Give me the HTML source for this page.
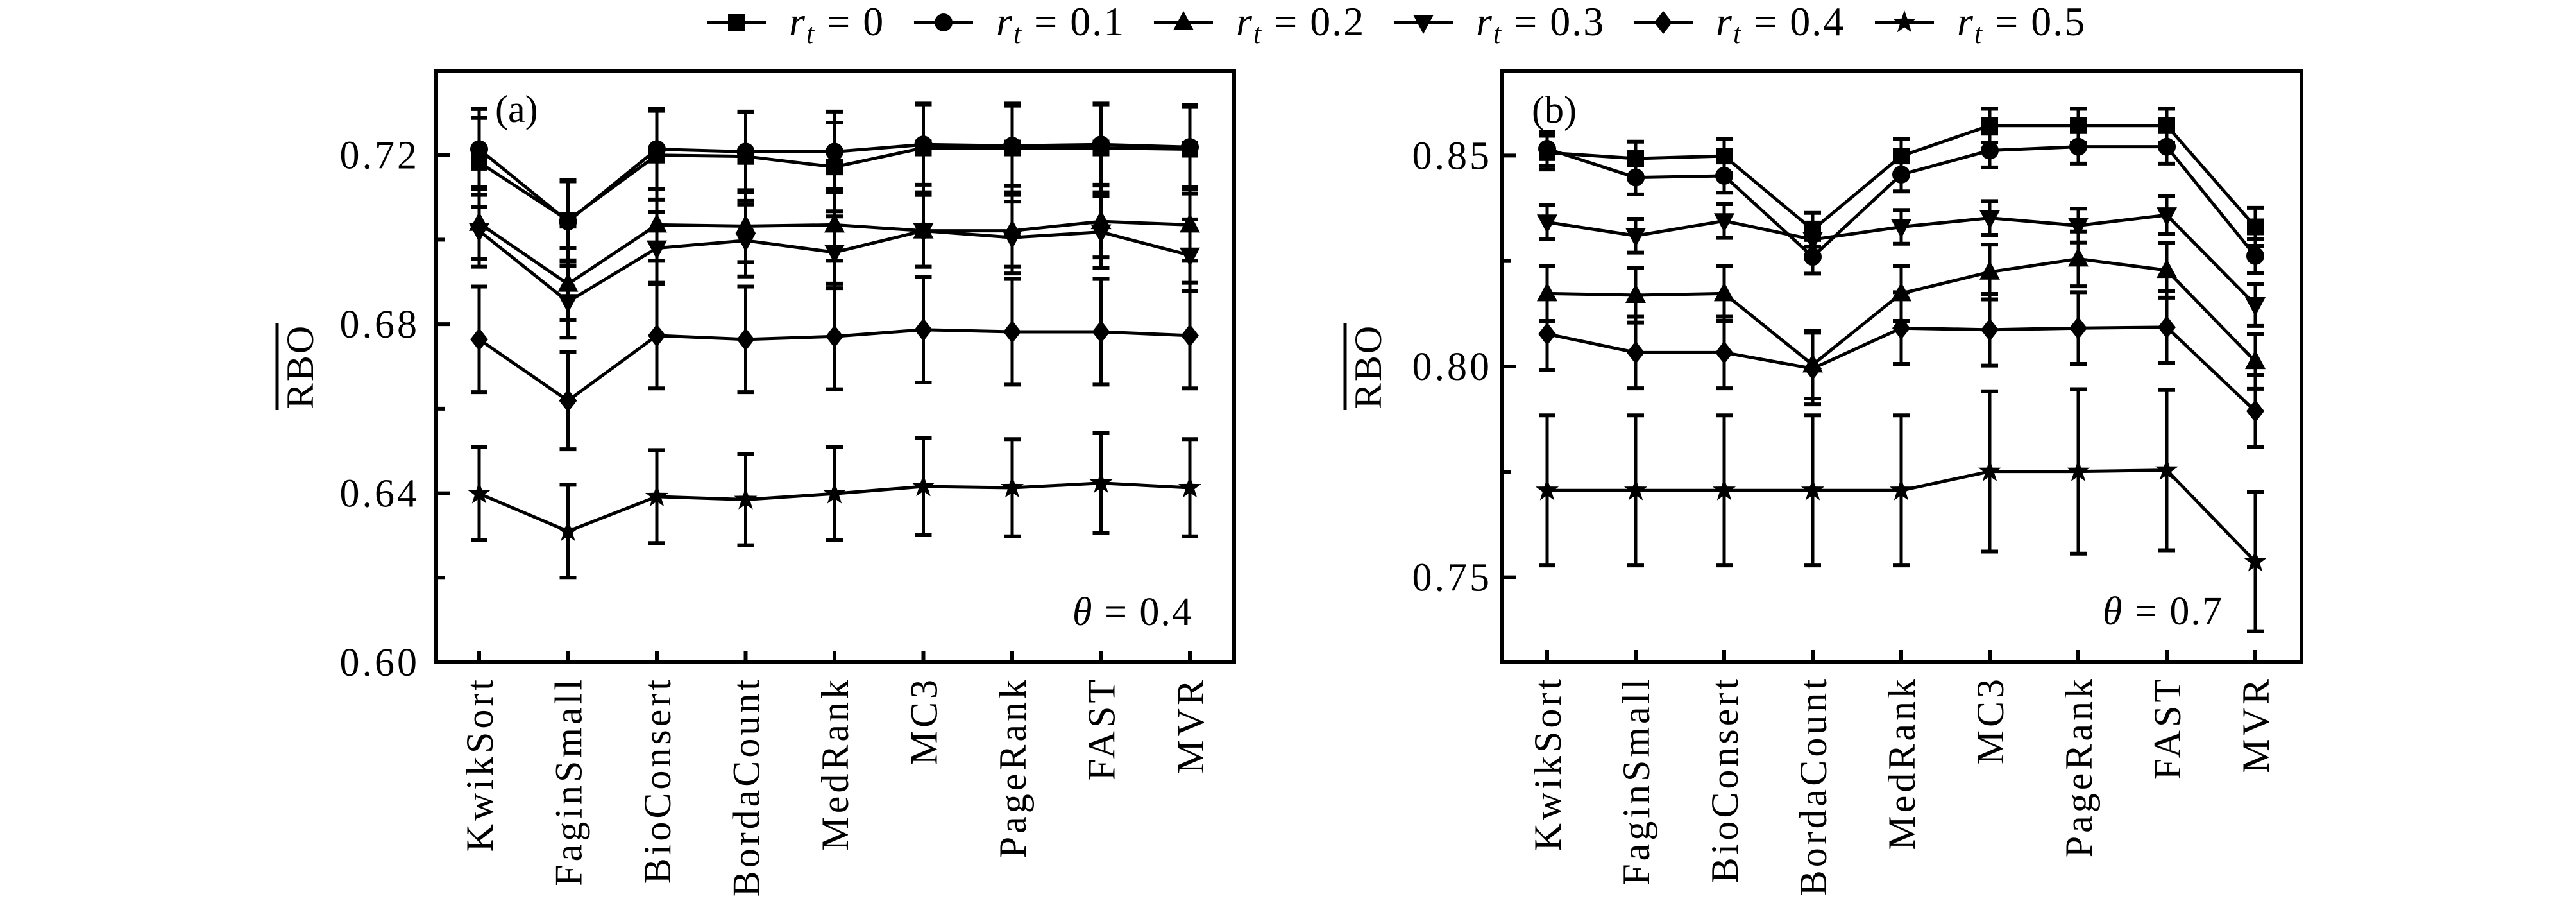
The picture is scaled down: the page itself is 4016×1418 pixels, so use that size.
<!DOCTYPE html>
<html><head><meta charset="utf-8"><style>
html,body{margin:0;padding:0;background:#fff}
svg{display:block}
text{font-family:"Liberation Serif",serif;fill:#000}
</style></head><body>
<svg id="chart" width="4016" height="1418" viewBox="0 0 4016 1418" xmlns="http://www.w3.org/2000/svg">
<g id="legend"></g>
<g id="panelA"></g>
<g id="panelB"></g>
</svg>
<script>
const categories = ["KwikSort","FaginSmall","BioConsert","BordaCount","MedRank","MC3","PageRank","FAST","MVR"];
const seriesLabels = ["0","0.1","0.2","0.3","0.4","0.5"];
const markerTypes = ["square","circle","tri-up","tri-down","diamond","star"];

const a_r0 = [0.7183,0.7046,0.7200,0.7197,0.7172,0.7217,0.7217,0.7217,0.7214];
const a_r1 = [0.7214,0.7043,0.7214,0.7208,0.7208,0.7225,0.7222,0.7225,0.7219];
const a_r2 = [0.7039,0.6895,0.7035,0.7032,0.7035,0.7021,0.7021,0.7043,0.7035];
const a_r3 = [0.7021,0.6853,0.6980,0.6998,0.6970,0.7021,0.7005,0.7018,0.6963];
const a_r4 = [0.6764,0.6619,0.6773,0.6764,0.6771,0.6787,0.6782,0.6782,0.6773];
const a_r5 = [0.6399,0.6310,0.6392,0.6385,0.6399,0.6416,0.6413,0.6424,0.6413];
const a_e0 = [0.0105,0.0095,0.0105,0.0105,0.0105,0.0105,0.0105,0.0105,0.0105];
const a_e1 = [0.0095,0.0095,0.0095,0.0095,0.0095,0.0095,0.0095,0.0095,0.0095];
const a_e2 = [0.0085,0.0085,0.0085,0.0085,0.0085,0.0085,0.0085,0.0085,0.0085];
const a_e3 = [0.0085,0.0085,0.0085,0.0085,0.0085,0.0085,0.0085,0.0085,0.0085];
const a_e4 = [0.0125,0.0115,0.0125,0.0125,0.0125,0.0125,0.0125,0.0125,0.0125];
const a_e5 = [0.0110,0.0110,0.0110,0.0108,0.0110,0.0115,0.0115,0.0118,0.0115];
const a_ticks = ["0.60","0.64","0.68","0.72"];

const b_r0 = [0.8507,0.8493,0.8499,0.8324,0.8499,0.8571,0.8571,0.8571,0.8331];
const b_r1 = [0.8516,0.8448,0.8452,0.8260,0.8455,0.8512,0.8521,0.8521,0.8262];
const b_r2 = [0.8173,0.8169,0.8173,0.8004,0.8173,0.8224,0.8255,0.8228,0.8012];
const b_r3 = [0.8342,0.8310,0.8345,0.8301,0.8331,0.8352,0.8334,0.8359,0.8146];
const b_r4 = [0.8077,0.8033,0.8033,0.7995,0.8091,0.8087,0.8091,0.8093,0.7894];
const b_r5 = [0.7706,0.7706,0.7706,0.7706,0.7706,0.7751,0.7751,0.7754,0.7537];
const b_e0 = [0.0040,0.0040,0.0040,0.0040,0.0040,0.0040,0.0040,0.0040,0.0045];
const b_e1 = [0.0040,0.0040,0.0040,0.0040,0.0040,0.0040,0.0040,0.0040,0.0040];
const b_e2 = [0.0065,0.0065,0.0065,0.0080,0.0065,0.0065,0.0065,0.0065,0.0065];
const b_e3 = [0.0040,0.0040,0.0040,0.0040,0.0040,0.0040,0.0040,0.0045,0.0050];
const b_e4 = [0.0085,0.0085,0.0085,0.0085,0.0085,0.0085,0.0085,0.0085,0.0085];
const b_e5 = [0.0178,0.0178,0.0178,0.0178,0.0178,0.0190,0.0195,0.0190,0.0165];
const b_ticks = ["0.75","0.80","0.85"];

const NS = "http://www.w3.org/2000/svg";
function mk(tag, attrs, parent){
  const e = document.createElementNS(NS, tag);
  for (const k in attrs) e.setAttribute(k, attrs[k]);
  parent.appendChild(e);
  return e;
}
function marker(type, x, y, parent){
  let e;
  if (type==="square") e = mk("rect",{x:x-13,y:y-13,width:26,height:26,fill:"#000"},parent);
  else if (type==="circle") e = mk("circle",{cx:x,cy:y,r:14,fill:"#000"},parent);
  else if (type==="tri-up") e = mk("polygon",{points:`${x},${y-18} ${x-16},${y+12} ${x+16},${y+12}`,fill:"#000"},parent);
  else if (type==="tri-down") e = mk("polygon",{points:`${x},${y+18} ${x-16},${y-12} ${x+16},${y-12}`,fill:"#000"},parent);
  else if (type==="diamond") e = mk("polygon",{points:`${x},${y-18} ${x+14},${y} ${x},${y+18} ${x-14},${y}`,fill:"#000"},parent);
  else {
    let p=[];
    for(let i=0;i<10;i++){const r=i%2?7.5:19;const a=-Math.PI/2+i*Math.PI/5;p.push((x+r*Math.cos(a)).toFixed(1)+","+(y+r*Math.sin(a)).toFixed(1));}
    e = mk("polygon",{points:p.join(" "),fill:"#000"},parent);
  }
  return e;
}

function drawPanel(g, cfg){
  const {L,R,T,B,ymin,ymax,x0,dx,series,errs,ticks,minor,label,theta,thetaX,labelX,ylabX,tickLabelR} = cfg;
  const ys = v => B - (v-ymin)/(ymax-ymin)*(B-T);
  const xs = i => x0 + i*dx;
  const fr = mk("rect",{x:L,y:T,width:R-L,height:B-T,fill:"none",stroke:"#000","stroke-width":6},g);
  
  
  ticks.forEach(t=>{
    const v=parseFloat(t), y=ys(v);
    mk("line",{x1:L,y1:y,x2:L+22,y2:y,stroke:"#000","stroke-width":6},g);
    const tx = mk("text",{x:tickLabelR,y:y+21,"font-size":62,"text-anchor":"end","letter-spacing":4},g);
    tx.textContent=t;
    
    
  });
  minor.forEach(v=>{const y=ys(v);mk("line",{x1:L,y1:y,x2:L+14,y2:y,stroke:"#000","stroke-width":6},g);});
  categories.forEach((c,i)=>{
    const x=xs(i);
    mk("line",{x1:x,y1:B,x2:x,y2:B-18,stroke:"#000","stroke-width":6},g);
    const tx = mk("text",{x:0,y:0,"font-size":60,"text-anchor":"end","letter-spacing":5,transform:`translate(${x+21},${B+22}) rotate(-90)`},g);
    tx.textContent=c;
    
    
  });
  const yt = mk("text",{x:0,y:0,"font-size":60,"text-anchor":"middle","letter-spacing":3,transform:`translate(${ylabX},${(T+B)/2}) rotate(-90)`},g);
  yt.textContent="RBO";
  
  
  mk("line",{x1:ylabX-56,y1:(T+B)/2-68,x2:ylabX-56,y2:(T+B)/2+68,stroke:"#000","stroke-width":5},g);
  series.forEach((vals,s)=>{
    const sg = mk("g",{},g);
    
    
    const pts = vals.map((v,i)=>xs(i)+","+ys(v)).join(" ");
    mk("polyline",{points:pts,fill:"none",stroke:"#000","stroke-width":5},sg);
    vals.forEach((v,i)=>{
      const x=xs(i), e=errs[s][i];
      const yt1=ys(v+e), yb=ys(v-e);
      mk("line",{x1:x,y1:yt1,x2:x,y2:yb,stroke:"#000","stroke-width":5},sg);
      mk("line",{x1:x-13,y1:yt1,x2:x+13,y2:yt1,stroke:"#000","stroke-width":6},sg);
      mk("line",{x1:x-13,y1:yb,x2:x+13,y2:yb,stroke:"#000","stroke-width":6},sg);
      const m = marker(markerTypes[s],x,ys(v),sg);
      
      
    });
  });
  const pl = mk("text",{x:labelX,y:T+80,"font-size":60},g);
  pl.textContent=label;
  
  
  const th = mk("text",{x:thetaX,y:B-58,"font-size":62,"letter-spacing":2},g);
  th.innerHTML='<tspan font-style="italic">θ</tspan> = '+theta;
  
  
}

drawPanel(document.getElementById("panelA"),{
  L:680,R:1924,T:110,B:1032,ymin:0.60,ymax:0.74,x0:747,dx:138.5,
  series:[a_r0,a_r1,a_r2,a_r3,a_r4,a_r5],errs:[a_e0,a_e1,a_e2,a_e3,a_e4,a_e5],
  ticks:a_ticks,minor:[0.62,0.66,0.70],label:"(a)",theta:"0.4",thetaX:1672,labelX:772,ylabX:488,tickLabelR:654
});
drawPanel(document.getElementById("panelB"),{
  L:2342,R:3588,T:111,B:1031,ymin:0.73,ymax:0.87,x0:2412,dx:138,
  series:[b_r0,b_r1,b_r2,b_r3,b_r4,b_r5],errs:[b_e0,b_e1,b_e2,b_e3,b_e4,b_e5],
  ticks:b_ticks,minor:[0.775,0.825],label:"(b)",theta:"0.7",thetaX:3278,labelX:2388,ylabX:2153,tickLabelR:2326
});

const lg = document.getElementById("legend");
const legendX = [1102,1425,1799,2173,2547,2923];
seriesLabels.forEach((lab,s)=>{
  const x=legendX[s];
  const eg = mk("g",{},lg);
  
  
  mk("line",{x1:x,y1:35,x2:x+92,y2:35,stroke:"#000","stroke-width":5},eg);
  marker(markerTypes[s],x+46,35,eg);
  const t = mk("text",{x:x+128,y:55,"font-size":64,"letter-spacing":2},eg);
  t.innerHTML='<tspan font-style="italic">r</tspan><tspan font-style="italic" font-size="44" dy="12">t</tspan><tspan dy="-12"> = '+lab+'</tspan>';
});
</script>
</body></html>
